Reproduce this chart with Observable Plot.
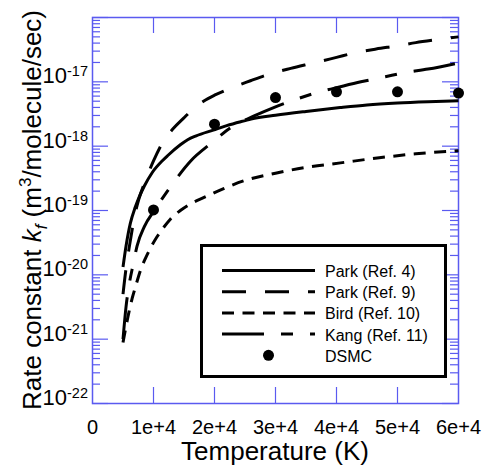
<!DOCTYPE html>
<html><head><meta charset="utf-8">
<script src="https://cdn.jsdelivr.net/npm/d3@7"></script>
<script src="https://cdn.jsdelivr.net/npm/@observablehq/plot@0.6"></script>
<style>
body{margin:0;background:#fff;}
#chart{width:491px;height:466px;}
</style></head><body><div id="chart"></div>
<script>
// ---- data ----
const seriesNames = ["Park (Ref. 4)", "Park (Ref. 9)", "Bird (Ref. 10)", "Kang (Ref. 11)", "DSMC"];

const park4T = [5000, 5500, 6200, 7000, 7600, 8500, 9800, 11500, 12300, 14400, 15600, 17000, 19800, 22000, 24300, 26000, 30000, 35000, 40600, 45000, 50000, 55000, 60000];
const park4K = [1.32e-20, 2.8e-20, 6.3e-20, 1.12e-19, 1.58e-19, 2.4e-19, 3.9e-19, 6.0e-19, 7.1e-19, 1.05e-18, 1.26e-18, 1.45e-18, 1.78e-18, 2.09e-18, 2.4e-18, 2.63e-18, 3.02e-18, 3.47e-18, 3.98e-18, 4.37e-18, 4.68e-18, 4.9e-18, 5.07e-18];

const park9T = [5000, 5500, 6000, 6500, 7050, 7600, 8360, 9200, 10000, 11640, 13200, 14900, 16500, 18200, 20000, 22100, 25900, 29000, 32500, 36300, 40000, 43000, 46500, 50000, 53000, 56000, 60000];
const park9K = [5.0e-21, 1.26e-20, 2.6e-20, 5.0e-20, 9.5e-20, 1.5e-19, 2.43e-19, 3.9e-19, 5.9e-19, 1.2e-18, 1.86e-18, 2.7e-18, 3.8e-18, 5.0e-18, 6.2e-18, 7.6e-18, 1.04e-17, 1.32e-17, 1.62e-17, 1.97e-17, 2.4e-17, 2.82e-17, 3.24e-17, 3.63e-17, 4.07e-17, 4.47e-17, 5.0e-17];

const birdT = [5000, 5500, 6000, 6500, 7000, 7900, 8700, 9500, 10500, 11500, 12800, 14400, 16200, 18200, 21500, 24750, 30000, 35000, 40650, 47000, 53000, 58200, 60000];
const birdK = [8.9e-22, 1.58e-21, 2.7e-21, 4.3e-21, 6.3e-21, 1.2e-20, 1.82e-20, 2.6e-20, 3.8e-20, 5.2e-20, 7.4e-20, 1.0e-19, 1.29e-19, 1.58e-19, 2.19e-19, 2.88e-19, 3.8e-19, 4.68e-19, 5.5e-19, 6.6e-19, 7.6e-19, 8.3e-19, 8.5e-19];

const kangT = [5000, 5500, 6000, 6700, 7300, 8500, 10200, 13000, 16100, 19500, 22700, 26500, 29700, 33000, 37000, 40000, 44000, 48000, 51000, 55000, 60000];
const kangK = [1.0e-21, 3.2e-21, 7.0e-21, 1.5e-20, 2.8e-20, 5.6e-20, 1.02e-19, 2.5e-19, 5.9e-19, 1.12e-18, 1.95e-18, 2.95e-18, 3.98e-18, 5.2e-18, 6.9e-18, 8.1e-18, 1.0e-17, 1.2e-17, 1.38e-17, 1.58e-17, 1.97e-17];

const dsmcT = [10000, 20000, 30000, 40000, 50000, 60000];
const dsmcK = [1.02e-19, 2.2e-18, 5.7e-18, 7.0e-18, 7.0e-18, 6.7e-18];

const xTicks = [0, 10000, 20000, 30000, 40000, 50000, 60000];
const xTickLabels = ["0", "1e+4", "2e+4", "3e+4", "4e+4", "5e+4", "6e+4"];
const yDecades = [1e-22, 1e-21, 1e-20, 1e-19, 1e-18, 1e-17];
const yTickBase = ["10", "10", "10", "10", "10", "10"];
const yTickExp = ["-22", "-21", "-20", "-19", "-18", "-17"];
const xLabel = "Temperature (K)";

// ---- layout / style ----
const W = 491, H = 466, mL = 92, mR = 33, mT = 17, mB = 63;
const FW = W - mL - mR, FH = H - mT - mB;
const blue = "#5a5af0";
const font = "'Liberation Sans', Arial, Helvetica, sans-serif";
const dashes = ["none", "24,19", "12,8.5", "42,17,12,17"];

const rows = (T, K) => T.map((t, i) => ({T: t, k: K[i]}));
const curves = [rows(park4T, park4K), rows(park9T, park9K), rows(birdT, birdK), rows(kangT, kangK)];
const dsmc = rows(dsmcT, dsmcK);

// tick positions
const yMajor = [...yDecades, 1e-16];
const yMinor = [];
for (const d of yDecades) for (let m = 2; m <= 9; m++) yMinor.push(+(m * d).toPrecision(3));
const xInner = xTicks.slice(1, -1);

const chart = Plot.plot({
  width: W, height: H,
  marginLeft: mL, marginRight: mR, marginTop: mT, marginBottom: mB,
  style: {fontFamily: font, color: "black", background: "white", overflow: "visible"},
  x: {domain: [0, 60000]},
  y: {type: "log", domain: [1e-22, 1e-16]},
  marks: [
    // inward ticks, left/right
    Plot.ruleY(yMajor, {y: d => d, stroke: blue, strokeWidth: 1.2, insetRight: FW - 16}),
    Plot.ruleY(yMinor, {y: d => d, stroke: blue, strokeWidth: 1.2, insetRight: FW - 8}),
    Plot.ruleY(yMajor, {y: d => d, stroke: blue, strokeWidth: 1.2, insetLeft: FW - 16}),
    Plot.ruleY(yMinor, {y: d => d, stroke: blue, strokeWidth: 1.2, insetLeft: FW - 8}),
    // inward ticks, bottom/top
    Plot.ruleX(xInner, {x: d => d, stroke: blue, strokeWidth: 1.2, insetTop: FH - 16}),
    Plot.ruleX(xInner, {x: d => d, stroke: blue, strokeWidth: 1.2, insetBottom: FH - 16}),
    Plot.frame({stroke: blue, strokeWidth: 1.5}),
    Plot.axisX(xTicks, {tickSize: 0, tickPadding: 16, fontSize: 20, label: null,
      tickFormat: d => xTickLabels[xTicks.indexOf(d)]}),
    Plot.axisY([], {tickSize: 0, label: null}),
    ...curves.map((c, i) => Plot.line(c, {x: "T", y: "k", stroke: "black", strokeWidth: 3,
      strokeDasharray: dashes[i], strokeLinecap: "butt", curve: "monotone-x"})),
    Plot.dot(dsmc, {x: "T", y: "k", r: 5.5, fill: "black", stroke: null})
  ]
});
document.getElementById("chart").appendChild(chart);

const svg = d3.select(chart);
const sy = chart.scale("y");

// y tick labels with superscript exponents
const yl = svg.append("g").attr("font-family", font).attr("fill", "black");
yDecades.forEach((d, i) => {
  const t = yl.append("text").attr("x", mL - 4).attr("y", sy.apply(d) + 2).attr("text-anchor", "end");
  t.append("tspan").attr("font-size", 22).text(yTickBase[i]);
  t.append("tspan").attr("font-size", 14.5).attr("dy", -7).text(yTickExp[i]);
});

// axis titles
svg.append("text").attr("x", mL + FW / 2).attr("y", 460).attr("text-anchor", "middle")
  .attr("font-family", font).attr("font-size", 26).attr("fill", "black").text(xLabel);

const yt = svg.append("text").attr("transform", `translate(41,${mT + FH / 2}) rotate(-90)`)
  .attr("text-anchor", "middle").attr("font-family", font).attr("font-size", 26).attr("fill", "black");
yt.append("tspan").text("Rate constant ");
yt.append("tspan").attr("font-style", "italic").text("k");
yt.append("tspan").attr("font-style", "italic").attr("font-size", 17).attr("dy", 6).text("f");
yt.append("tspan").attr("dy", -6).text(" (m");
yt.append("tspan").attr("font-size", 17).attr("dy", -10).text("3");
yt.append("tspan").attr("dy", 10).text("/molecule/sec)");

// legend
const lg = svg.append("g").attr("font-family", font).attr("text-anchor", "start");
lg.append("rect").attr("x", 201.5).attr("y", 245.5).attr("width", 244).attr("height", 131)
  .attr("fill", "white").attr("stroke", "black").attr("stroke-width", 3);
seriesNames.forEach((name, i) => {
  const ry = 270.5 + i * 21.2;
  if (i < 4) {
    lg.append("line").attr("x1", 222).attr("x2", 315).attr("y1", ry).attr("y2", ry)
      .attr("stroke", "black").attr("stroke-width", 3)
      .attr("stroke-dasharray", dashes[i] === "none" ? null : dashes[i]);
  } else {
    lg.append("circle").attr("cx", 268.5).attr("cy", ry).attr("r", 5.5).attr("fill", "black");
  }
  lg.append("text").attr("x", 325).attr("y", ry + 6.5).attr("text-anchor", "start")
    .attr("font-size", 16).attr("fill", "black").text(name);
});
</script>
</body></html>
